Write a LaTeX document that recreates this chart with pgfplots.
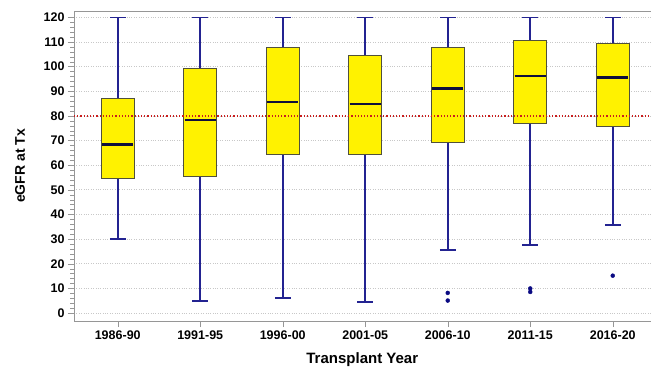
\documentclass[border=0pt]{standalone}
\usepackage{pgfplots}
\pgfplotsset{compat=1.18}
\usepackage{fontspec}
\setmainfont{Liberation Sans}
\definecolor{whisk}{RGB}{35,35,145}
\definecolor{med}{RGB}{15,15,60}
\definecolor{boxedge}{RGB}{80,80,60}
\definecolor{frame}{RGB}{150,150,150}
\definecolor{gridc}{RGB}{200,200,200}
\definecolor{refred}{RGB}{200,30,30}
\definecolor{outl}{RGB}{10,10,130}
\begin{document}
\begin{tikzpicture}
\path[use as bounding box] (-74bp,-48bp) rectangle (577bp,321bp);
\begin{axis}[
  scale only axis,
  width=580bp, height=310bp,
  xmin=-0.53, xmax=6.5,
  ymin=-3.2, ymax=122.6,
  axis y line*=left,
  xtick={0,1,2,3,4,5,6},
  xticklabels={1986-90,1991-95,1996-00,2001-05,2006-10,2011-15,2016-20},
  ytick={0,10,...,120},
  minor y tick num=4,
  tick align=outside,
  major tick length=6bp,
  minor tick length=3.5bp,
  axis line style={frame, -},
  every tick/.style={frame},
  xtick pos=bottom, ytick pos=left,
  ymajorgrids,
  major grid style={gridc, dotted, line width=0.9pt},
  tick label style={font=\fontsize{12.5bp}{14bp}\selectfont\bfseries, black},
  /pgf/number format/assume math mode=true,
  every axis y label/.style={at={(axis description cs:-0.093,0.5)}, rotate=90, anchor=center, font=\fontsize{14bp}{16bp}\selectfont\bfseries},
  every axis x label/.style={at={(axis description cs:0.497,-0.126)}, anchor=center, font=\fontsize{15bp}{17bp}\selectfont\bfseries},
  ylabel={eGFR at Tx},
  xlabel={Transplant Year},
  unbounded coords=jump,
  clip=false,
]
% whiskers (lower whisker to Q1, Q3 to upper whisker) and caps
\addplot[whisk, line width=1.8pt, mark=none] coordinates {
 (0,30) (0,54.5) (nan,nan) (0,87) (0,120) (nan,nan) (-0.095,30) (0.095,30) (nan,nan) (-0.095,120) (0.095,120) (nan,nan)
 (1,5) (1,55.5) (nan,nan) (1,99.3) (1,120) (nan,nan) (0.905,5) (1.095,5) (nan,nan) (0.905,120) (1.095,120) (nan,nan)
 (2,6) (2,64.5) (nan,nan) (2,107.7) (2,120) (nan,nan) (1.905,6) (2.095,6) (nan,nan) (1.905,120) (2.095,120) (nan,nan)
 (3,4.5) (3,64.5) (nan,nan) (3,104.5) (3,120) (nan,nan) (2.905,4.5) (3.095,4.5) (nan,nan) (2.905,120) (3.095,120) (nan,nan)
 (4,25.5) (4,69.3) (nan,nan) (4,107.7) (4,120) (nan,nan) (3.905,25.5) (4.095,25.5) (nan,nan) (3.905,120) (4.095,120) (nan,nan)
 (5,27.7) (5,77.0) (nan,nan) (5,110.5) (5,120) (nan,nan) (4.905,27.7) (5.095,27.7) (nan,nan) (4.905,120) (5.095,120) (nan,nan)
 (6,35.7) (6,75.8) (nan,nan) (6,109.6) (6,120) (nan,nan) (5.905,35.7) (6.095,35.7) (nan,nan) (5.905,120) (6.095,120)
};
% boxes (Q1 to Q3)
\addplot[fill=yellow, draw=boxedge, line width=0.9pt, mark=none] coordinates {(-0.2,54.5) (0.2,54.5) (0.2,87) (-0.2,87)} -- cycle;
\addplot[fill=yellow, draw=boxedge, line width=0.9pt, mark=none] coordinates {(0.8,55.5) (1.2,55.5) (1.2,99.3) (0.8,99.3)} -- cycle;
\addplot[fill=yellow, draw=boxedge, line width=0.9pt, mark=none] coordinates {(1.8,64.5) (2.2,64.5) (2.2,107.7) (1.8,107.7)} -- cycle;
\addplot[fill=yellow, draw=boxedge, line width=0.9pt, mark=none] coordinates {(2.8,64.5) (3.2,64.5) (3.2,104.5) (2.8,104.5)} -- cycle;
\addplot[fill=yellow, draw=boxedge, line width=0.9pt, mark=none] coordinates {(3.8,69.3) (4.2,69.3) (4.2,107.7) (3.8,107.7)} -- cycle;
\addplot[fill=yellow, draw=boxedge, line width=0.9pt, mark=none] coordinates {(4.8,77.0) (5.2,77.0) (5.2,110.5) (4.8,110.5)} -- cycle;
\addplot[fill=yellow, draw=boxedge, line width=0.9pt, mark=none] coordinates {(5.8,75.8) (6.2,75.8) (6.2,109.6) (5.8,109.6)} -- cycle;
% medians
\addplot[med, line width=2.7pt, mark=none] coordinates {
 (-0.19,68.5) (0.19,68.5) (nan,nan)
 (0.81,78.4) (1.19,78.4) (nan,nan)
 (1.81,85.7) (2.19,85.7) (nan,nan)
 (2.81,84.8) (3.19,84.8) (nan,nan)
 (3.81,91.2) (4.19,91.2) (nan,nan)
 (4.81,96.2) (5.19,96.2) (nan,nan)
 (5.81,95.7) (6.19,95.7)
};
% outliers
\addplot[only marks, mark=*, mark size=2pt, draw=outl, fill=outl] coordinates {
 (4,8.2) (4,5.1) (5,10.0) (5,8.6) (6,15.2)
};
% reference line
\addplot[refred, dotted, line width=1.2pt, mark=none] coordinates {(-0.53,80) (6.5,80)};
\end{axis}
\end{tikzpicture}
\end{document}
